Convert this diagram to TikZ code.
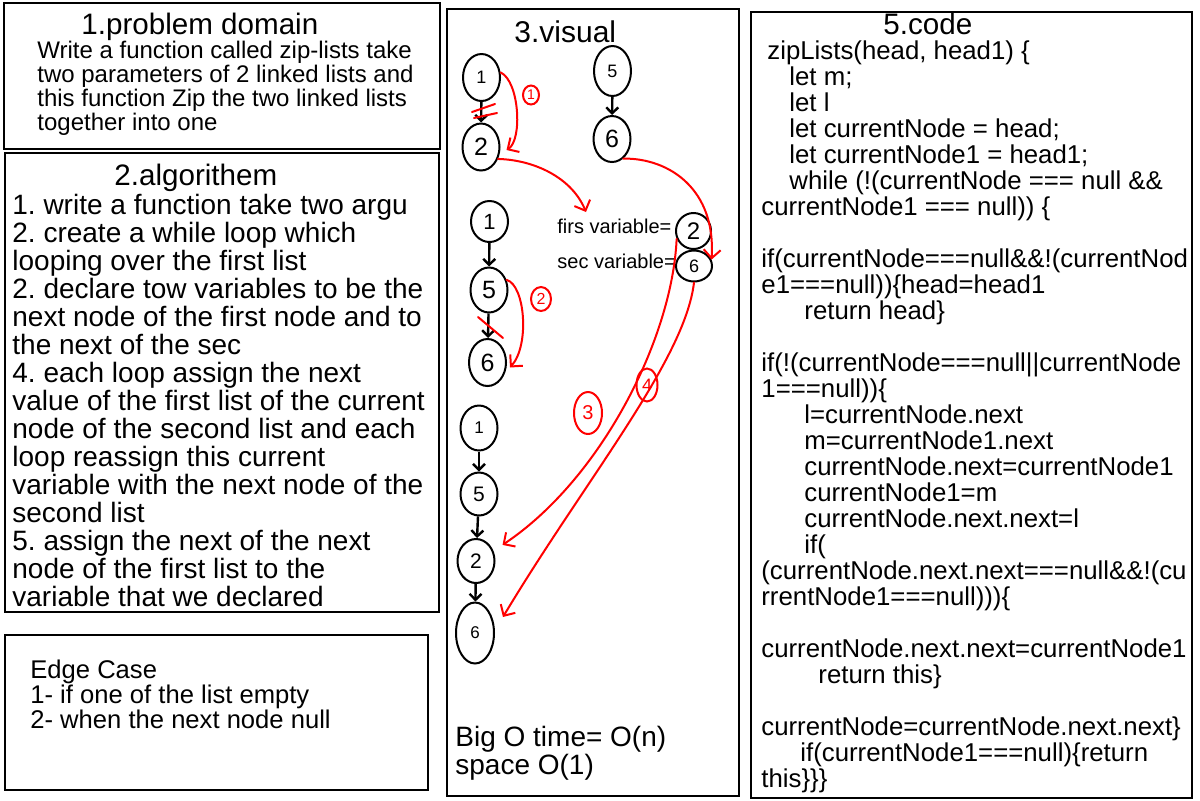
\documentclass[tikz,border=0pt]{standalone}
\usepackage{fontspec}
\setmainfont{Liberation Sans}
\usetikzlibrary{shapes.geometric,arrows.meta}
\newcommand{\txtsize}[2]{\fontsize{#1}{#2}\selectfont}
\frenchspacing
\tikzset{
  panel/.style={draw,line width=1pt},
  head/.style={anchor=base west,inner sep=0,font=\txtsize{14.8pt}{15pt}},
  body/.style={anchor=north west,inner sep=0,align=left},
  lnode/.style={draw,ellipse,line width=1pt,inner sep=0,minimum width=18.5pt},
  link/.style={line width=1.2pt,-{Straight Barb[length=3pt,width=6pt]}},
  ink/.style={red,line width=1pt,line cap=round},
  inkarr/.style={ink,-{Straight Barb[angle=90:6pt]}},
  numtag/.style={ink,draw,ellipse,inner sep=0}
}
\begin{document}
\begin{tikzpicture}[x=0.5pt,y=-0.5pt]
\useasboundingbox(0,0)rectangle(1200,800);
% panels
\draw[panel](4,3)rectangle(440,149);
\draw[panel](5,153)rectangle(439,612);
\draw[panel](5,635)rectangle(428,790);
\draw[panel](447,9)rectangle(739,796);
\draw[panel](751,12)rectangle(1192,798);
% 1 and 2
\node[head](pdhead)at(81,34){1.problem domain};
\node[body,font=\txtsize{12pt}{12pt}](pdtext)at(37,41){Write a function called zip-lists take\\two parameters of 2 linked lists and\\this function Zip the two linked lists\\together into one};
\node[head](alghead)at(114,185){2.algorithem};
\node[body,font=\txtsize{14pt}{14pt}](algtext)at(12,194){1. write a function take two argu\\2. create a while loop which\\looping over the first list\\2. declare tow variables to be the\\next node of the first node and to\\the next of the sec\\4. each loop assign the next\\value of the first list of the current\\node of the second list and each\\loop reassign this current\\variable with the next node of the\\second list\\5. assign the next of the next\\node of the first list to the\\variable that we declared};
\node[body,font=\txtsize{12.8pt}{12.5pt}](edgetext)at(30,660){Edge Case\\1- if one of the list empty\\2- when the next node null};
% 3.visual
\node[head,font=\txtsize{15pt}{15pt}](vishead)at(514,42){3.visual};
\node[body,font=\txtsize{14pt}{13.8pt}](bigo)at(455,726){Big O time= O(n)\\space O(1)};
\node[lnode,minimum height=23.5pt,font=\txtsize{9pt}{9pt}](a1)at(481.5,77.5){1};
\node[lnode,minimum height=23.5pt,font=\txtsize{12.5pt}{12.5pt}](a2)at(481,147){2};
\node[lnode,minimum height=25pt,font=\txtsize{9pt}{9pt}](b1)at(612.5,71){5};
\node[lnode,minimum height=23pt,font=\txtsize{12.5pt}{12.5pt}](b2)at(612,139){6};
\node[lnode,minimum height=20.5pt,font=\txtsize{11pt}{11pt}](c1)at(489.5,221.5){1};
\node[lnode,minimum height=22.5pt,font=\txtsize{12.5pt}{12.5pt}](c2)at(489,290){5};
\node[lnode,minimum height=23.5pt,font=\txtsize{12.5pt}{12.5pt}](c3)at(487.5,362.5){6};
\node[anchor=base west,inner sep=0,font=\txtsize{10pt}{10pt}](firs)at(557,233){firs variable=};
\node[anchor=base west,inner sep=0,font=\txtsize{10pt}{10pt}](sec)at(557,268){sec variable=};
\node[lnode,minimum width=17.5pt,minimum height=18pt,font=\txtsize{12pt}{12pt}](v2)at(693.5,231){2};
\node[lnode,minimum width=18pt,minimum height=15.5pt,font=\txtsize{9pt}{9pt}](v6)at(694,266){6};
\node[lnode,minimum height=22.5pt,font=\txtsize{8.5pt}{8.5pt}](d1)at(479,428){1};
\node[lnode,minimum height=21.5pt,font=\txtsize{10.5pt}{10.5pt}](d2)at(479,494){5};
\node[lnode,minimum height=22pt,font=\txtsize{10.5pt}{10.5pt}](d3)at(476,561){2};
\node[lnode,minimum width=19pt,minimum height=30.5pt,font=\txtsize{8.5pt}{8.5pt}](d4)at(475,633){6};
\draw[link](a1)--(a2);
\draw[link](b1)--(b2);
\draw[link](c1)--(c2);
\draw[link](c2)--(c3);
\draw[link](d1)--(d2);
\draw[link](d2)--(d3);
\draw[link](d3)--(d4);
% red pen
\coordinate(tofirs)at(586,212);
\draw[inkarr](a1.15)..controls+(19,9)and+(16,-10)..([shift={(6,3)}]a2.east);
\draw[inkarr](a2.-35)..controls(535,160)and(572,178)..(tofirs);
\draw[inkarr](b2.-60)..controls(670,158)and(716,190)..(v6.20);
\draw[inkarr](c2.30)..controls(525,285)and(530,345)..([shift={(3,5)}]c3.east);
\draw[inkarr](v2.-155)..controls(672,340)and(600,480)..([shift={(9,-6)}]d3.30);
\draw[inkarr](v6.-90)..controls(685,360)and(585,480)..([shift={(12,3)}]d4.50);
\draw[ink](472,112)--(495,104)(474,118)--(497,113);
\draw[ink](478,317)--(503,338);
\node[numtag,minimum width=8pt,minimum height=9.5pt,font=\txtsize{7pt}{7pt}](n1)at(531,95){1};
\node[numtag,minimum width=10pt,minimum height=12pt,font=\txtsize{8pt}{8pt}](n2)at(541,299){2};
\node[numtag,minimum width=14pt,minimum height=21pt,font=\txtsize{10pt}{10pt}](n3)at(588,413){3};
\node[numtag,minimum width=10.5pt,minimum height=16.5pt,font=\txtsize{9pt}{9pt}](n4)at(647,385){4};
% 5.code
\node[head](codehead)at(883,34){5.code};
\node[body,font=\txtsize{12.9pt}{13pt}](codetext)at(761,40){\hspace*{3pt}zipLists(head, head1) \{\\
\hspace*{14pt}let m;\\
\hspace*{14pt}let l\\
\hspace*{14pt}let currentNode = head;\\
\hspace*{14pt}let currentNode1 = head1;\\
\hspace*{14pt}while (!(currentNode === null \&\&\\
currentNode1 === null)) \{\\[13pt]
if(currentNode===null\&\&!(currentNod\\
e1===null))\{head=head1\\
\hspace*{21.5pt}return head\}\\[13pt]
if(!(currentNode===null||currentNode\\
1===null))\{\\
\hspace*{21.5pt}l=currentNode.next\\
\hspace*{21.5pt}m=currentNode1.next\\
\hspace*{21.5pt}currentNode.next=currentNode1\\
\hspace*{21.5pt}currentNode1=m\\
\hspace*{21.5pt}currentNode.next.next=l\\
\hspace*{21.5pt}if(\\
(currentNode.next.next===null\&\&!(cu\\
rrentNode1===null)))\{\\[13pt]
currentNode.next.next=currentNode1\\
\hspace*{28.5pt}return this\}\\[13pt]
currentNode=currentNode.next.next\}\\
\hspace*{19.5pt}if(currentNode1===null)\{return\\
this\}\}\}};
\end{tikzpicture}
\end{document}
